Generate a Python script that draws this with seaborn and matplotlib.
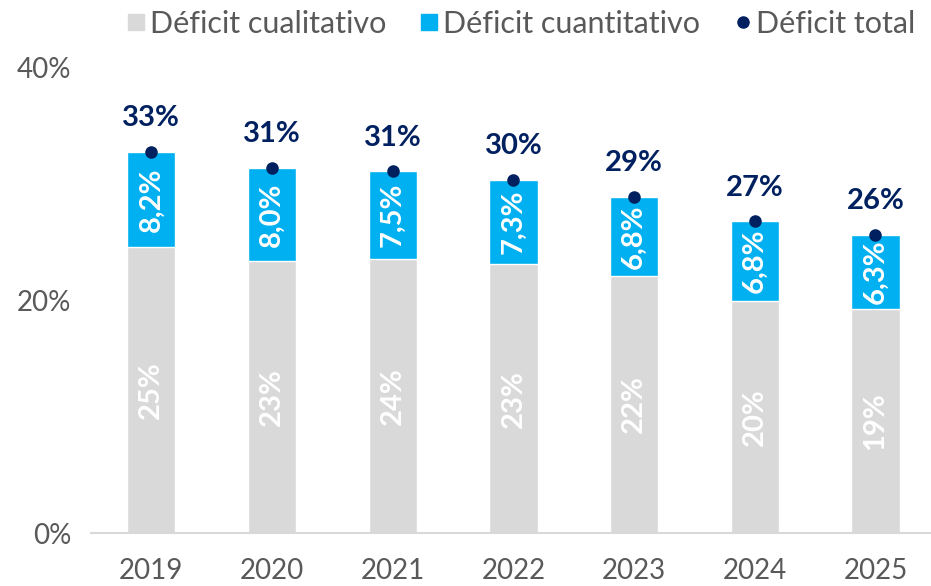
import matplotlib
matplotlib.use('Agg')
import matplotlib.pyplot as plt
from matplotlib.lines import Line2D
import seaborn as sns
import numpy as np

years = ['2019', '2020', '2021', '2022', '2023', '2024', '2025']
cualitativo = [24.6, 23.4, 23.6, 23.1, 22.1, 20.0, 19.3]
cuantitativo = [8.2, 8.0, 7.5, 7.3, 6.8, 6.8, 6.3]
total = [round(a + b, 1) for a, b in zip(cualitativo, cuantitativo)]

grey = '#D9D9D9'
blue = '#00B0F0'
navy = '#002060'
text_grey = '#595959'

sns.set_style('white')
plt.rcParams['font.family'] = ['Lato', 'DejaVu Sans']

fig = plt.figure(figsize=(9.31, 5.86), dpi=100)
ax = fig.add_axes([91 / 931, 53 / 586, 840 / 931, 465 / 586])

# stacked bars: total in blue, cualitativo in grey on top of it
sns.barplot(x=years, y=total, color=blue, width=0.4, saturation=1, ax=ax)
sns.barplot(x=years, y=cualitativo, color=grey, width=0.4, saturation=1, ax=ax)
sns.pointplot(x=years, y=total, color=navy, linestyle='none', markers='o',
              markersize=7, ax=ax)

ax.set_ylim(0, 40)
ax.set_xlim(-0.5, 6.46)
ax.set_yticks([0, 20, 40])
ax.set_yticklabels(['0%', '20%', '40%'])
ax.tick_params(axis='both', labelsize=20, colors=text_grey, length=0)
ax.tick_params(axis='x', pad=18)
ax.tick_params(axis='y', pad=14)
ax.set(xlabel='', ylabel='')
for s in ['top', 'right', 'left']:
    ax.spines[s].set_visible(False)
ax.spines['bottom'].set_color(grey)
ax.spines['bottom'].set_linewidth(1.5)

for i, (c, q, t) in enumerate(zip(cualitativo, cuantitativo, total)):
    ax.text(i, c / 2, f'{c:.0f}%', rotation=90, ha='center', va='center',
            color='white', fontsize=21, fontweight='bold')
    ax.text(i, c + q / 2, f'{q:.1f}%'.replace('.', ','), rotation=90,
            ha='center', va='center', color='white', fontsize=21,
            fontweight='bold')
    ax.text(i, t + 1.8, f'{t:.0f}%', ha='center', va='bottom', color=navy,
            fontsize=21, fontweight='bold')

handles = [
    Line2D([], [], marker='s', linestyle='none', color=grey, markersize=12),
    Line2D([], [], marker='s', linestyle='none', color=blue, markersize=12),
    Line2D([], [], marker='o', linestyle='none', color=navy, markersize=8),
]
labels = ['Déficit cualitativo', 'Déficit cuantitativo', 'Déficit total']
leg = fig.legend(handles, labels, loc='upper center', ncol=3, frameon=False,
                 bbox_to_anchor=(0.56, 1.03), fontsize=22, handletextpad=0.15,
                 columnspacing=1.1, handlelength=0.6)
for txt in leg.get_texts():
    txt.set_color(text_grey)

fig.savefig('out.png', dpi=100)
